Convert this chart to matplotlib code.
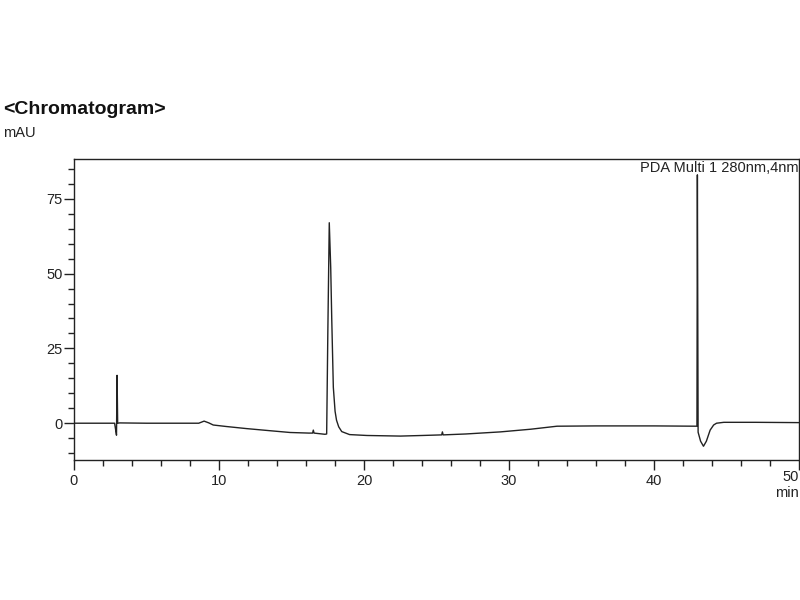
import matplotlib.pyplot as plt
from matplotlib.ticker import MultipleLocator, FuncFormatter

plt.rcParams['font.family'] = ['Liberation Sans', 'DejaVu Sans']

# retention time (min) and signal (mAU)
time_min = [0, 2.8, 2.88, 2.93, 2.97, 3.01, 3.15, 5, 8.6, 8.97, 9.3, 9.6,
            10.5, 11.9, 13.5, 14.9, 16.2, 16.45, 16.5, 16.55, 17.3, 17.42,
            17.5, 17.6, 17.7, 17.77, 17.88, 18.0, 18.1, 18.25, 18.46, 19.0,
            20.2, 22.5, 24.0, 25.35, 25.4, 25.45, 27, 29.4, 31.5, 33.3, 36,
            40, 42.95, 42.98, 43.03, 43.2, 43.4, 43.6, 43.86, 44.1, 44.3,
            44.8, 47, 50]
signal_mau = [0, 0, -2.5, -4, 16, 0, 0.1, 0, 0, 0.7, 0.1, -0.6,
              -1.1, -1.8, -2.5, -3.1, -3.3, -3.3, -2.3, -3.3, -3.7, -3.6,
              30, 67, 52, 35, 12, 4, 1, -1.2, -2.8, -3.8,
              -4.1, -4.3, -4.1, -3.9, -2.9, -3.9, -3.6, -2.9, -2.0, -1.0, -0.9,
              -0.9, -1.0, 83, -3, -6, -7.7, -6, -2.3, -0.6, 0,
              0.3, 0.3, 0.2]

x_max = 50

fig = plt.figure(figsize=(8, 6), dpi=100)
ax = fig.add_axes([0.0925, 0.2333, 0.9065, 0.5017])

ax.plot(time_min, signal_mau, color='#222222', linewidth=1.0)

ax.set_xlim(0, x_max)
ax.set_ylim(-12.3, 88.3)

ax.xaxis.set_major_locator(MultipleLocator(10))
ax.xaxis.set_minor_locator(MultipleLocator(2))
ax.yaxis.set_major_locator(MultipleLocator(25))
ax.yaxis.set_minor_locator(MultipleLocator(5))

# last x label is drawn by hand so it stays inside the figure
ax.xaxis.set_major_formatter(
    FuncFormatter(lambda v, p: '' if v >= x_max else f'{v:g}'))

ax.tick_params(which='major', length=7, width=1, direction='out',
               labelsize=10.5, labelcolor='#222222', color='#222222')
ax.tick_params(which='minor', length=4, width=1, direction='out',
               color='#222222')
ax.tick_params(axis='y', pad=1)
ax.tick_params(axis='x', pad=3)

for side in ['top', 'bottom', 'left', 'right']:
    ax.spines[side].set_linewidth(1)
    ax.spines[side].set_color('#222222')

ax.text(x_max, -0.058, f'{x_max}', transform=ax.get_xaxis_transform(),
        fontsize=10.5, va='center', ha='right', color='#222222')

# labels
fig.text(0.004, 0.817, '<Chromatogram>', fontsize=14, fontweight='bold',
         va='center', ha='left', color='#111111')
fig.text(0.004, 0.778, 'mAU', fontsize=10.5, va='center', ha='left',
         color='#222222')
fig.text(0.998, 0.178, 'min', fontsize=10.5, va='center', ha='right',
         color='#222222')
ax.text(0.999, 0.995, 'PDA Multi 1 280nm,4nm', transform=ax.transAxes,
        fontsize=10.5, va='top', ha='right', color='#222222')

fig.savefig('out.png', dpi=100)
